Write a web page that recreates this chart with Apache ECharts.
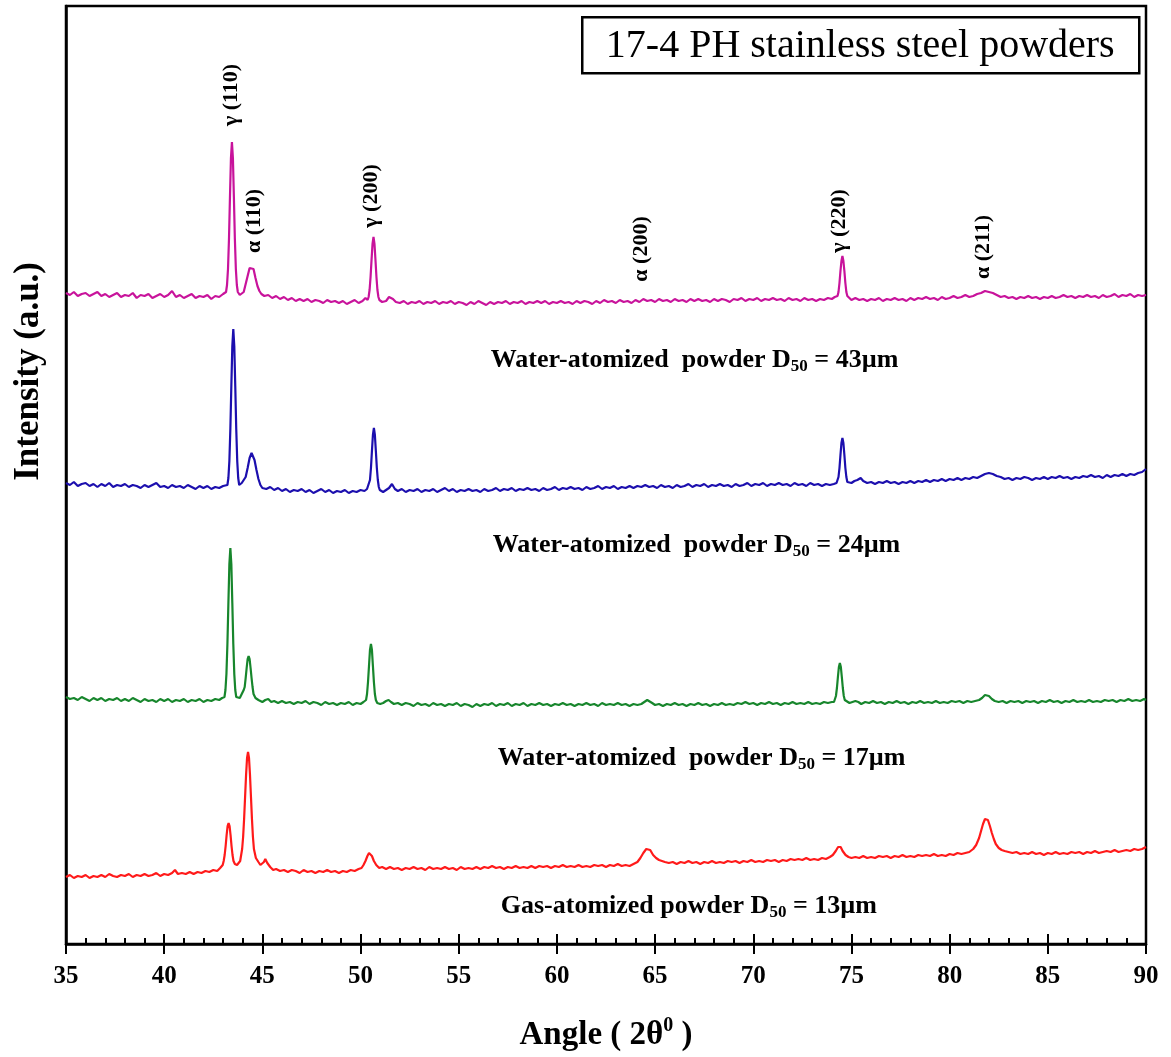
<!DOCTYPE html>
<html>
<head>
<meta charset="utf-8">
<title>XRD 17-4 PH powders</title>
<script src="https://cdn.jsdelivr.net/npm/echarts@6/dist/echarts.min.js"></script>
<style>
  html, body { margin: 0; padding: 0; background: #fff; }
  #chart { width: 1171px; height: 1057px; }
</style>
</head>
<body>
<div id="chart"></div>
<script>
// XRD patterns: [2θ (deg), intensity (a.u., stacked offsets included)]
const water43Pattern = [
  [35.0,651],[35.2,649],[35.4,652],[35.6,648],[35.8,650],[36.0,651],[36.2,648],[36.4,650],[36.6,652],[36.8,648],
  [37.0,650],[37.2,647],[37.4,649],[37.6,651],[37.8,647],[38.0,649],[38.2,648],[38.4,651],[38.6,646],[38.8,649],
  [39.0,648],[39.2,650],[39.4,646],[39.6,648],[39.8,650],[40.0,647],[40.2,649],[40.4,653],[40.6,647],[40.8,649],
  [41.0,646],[41.2,648],[41.4,650],[41.6,646],[41.8,648],[42.0,647],[42.2,649],[42.4,645],[42.6,648],[42.8,647],
  [43.0,650],[43.1,649],[43.15,652],[43.2,659],[43.25,675],[43.3,705],[43.35,747],[43.4,786],[43.45,802],[43.5,786],
  [43.55,747],[43.6,705],[43.65,675],[43.7,659],[43.75,652],[43.85,649],[43.95,651],[44.05,652],[44.15,660],[44.25,668],
  [44.35,676],[44.45,678],[44.55,675],[44.65,666],[44.75,658],[44.85,653],[44.95,650],[45.1,648],[45.3,649],[45.5,646],
  [45.7,648],[45.9,645],[46.1,647],[46.3,644],[46.5,646],[46.7,643],[46.9,645],[47.1,643],[47.3,645],[47.5,642],
  [47.7,644],[47.9,643],[48.1,641],[48.3,644],[48.5,642],[48.7,643],[48.9,641],[49.1,643],[49.3,640],[49.5,642],
  [49.7,644],[49.9,641],[50.1,643],[50.25,646],[50.36,644],[50.41,647],[50.46,654],[50.51,667],[50.56,684],[50.61,700],
  [50.66,707],[50.71,700],[50.76,684],[50.81,667],[50.86,654],[50.91,647],[50.96,644],[51.1,642],[51.3,643],[51.45,647],
  [51.55,649],[51.65,645],[51.8,642],[52.0,641],[52.2,643],[52.4,640],[52.6,642],[52.8,641],[53.0,643],[53.2,640],
  [53.4,642],[53.6,641],[53.8,643],[54.0,640],[54.2,642],[54.4,641],[54.6,643],[54.8,640],[55.0,642],[55.2,641],
  [55.4,639],[55.6,642],[55.8,640],[56.0,643],[56.2,641],[56.4,639],[56.6,642],[56.8,640],[57.0,642],[57.2,641],
  [57.4,643],[57.6,640],[57.8,642],[58.0,641],[58.2,643],[58.4,640],[58.6,642],[58.8,641],[59.0,643],[59.2,641],
  [59.4,643],[59.6,640],[59.8,642],[60.0,641],[60.2,643],[60.4,641],[60.6,642],[60.8,640],[61.0,643],[61.2,641],
  [61.4,643],[61.6,642],[61.8,640],[62.0,643],[62.2,641],[62.4,644],[62.6,642],[62.8,643],[63.0,641],[63.2,644],
  [63.4,642],[63.6,643],[63.8,641],[64.0,644],[64.2,642],[64.4,645],[64.6,643],[64.8,644],[65.0,642],[65.2,645],
  [65.4,643],[65.6,644],[65.8,642],[66.0,645],[66.2,643],[66.4,644],[66.6,642],[66.8,645],[67.0,643],[67.2,645],
  [67.4,643],[67.6,644],[67.8,642],[68.0,645],[68.2,643],[68.4,645],[68.6,644],[68.8,642],[69.0,645],[69.2,644],
  [69.4,646],[69.6,643],[69.8,645],[70.0,644],[70.2,646],[70.4,643],[70.6,645],[70.8,644],[71.0,646],[71.2,644],
  [71.4,645],[71.6,643],[71.8,646],[72.0,644],[72.2,645],[72.4,643],[72.6,646],[72.8,644],[73.0,645],[73.2,643],
  [73.4,645],[73.6,644],[73.8,646],[74.0,645],[74.15,647],[74.24,646],[74.29,648],[74.34,652],[74.39,661],[74.44,673],
  [74.49,683],[74.54,688],[74.59,683],[74.64,673],[74.69,661],[74.74,652],[74.79,648],[74.84,646],[75.0,644],[75.2,646],
  [75.4,644],[75.6,645],[75.8,643],[76.0,645],[76.2,644],[76.4,646],[76.6,643],[76.8,645],[77.0,644],[77.2,646],
  [77.4,644],[77.6,645],[77.8,643],[78.0,646],[78.2,644],[78.4,646],[78.6,645],[78.8,647],[79.0,645],[79.2,646],
  [79.4,644],[79.6,647],[79.8,645],[80.0,646],[80.2,648],[80.4,646],[80.6,647],[80.8,649],[81.0,647],[81.2,648],
  [81.4,650],[81.6,651],[81.8,653],[82.0,652],[82.2,651],[82.4,649],[82.6,647],[82.8,648],[83.0,646],[83.2,647],
  [83.4,645],[83.6,647],[83.8,646],[84.0,648],[84.2,646],[84.4,647],[84.6,645],[84.8,647],[85.0,646],[85.2,648],
  [85.4,646],[85.6,647],[85.8,649],[86.0,647],[86.2,648],[86.4,646],[86.6,648],[86.8,647],[87.0,649],[87.2,647],
  [87.4,648],[87.6,646],[87.8,649],[88.0,647],[88.2,648],[88.4,650],[88.6,647],[88.8,649],[89.0,648],[89.2,650],
  [89.4,647],[89.6,649],[89.8,648],[90.0,649]
];

const water24Pattern = [
  [35.0,461],[35.2,459],[35.4,462],[35.6,458],[35.8,460],[36.0,461],[36.2,458],[36.4,460],[36.6,457],[36.8,460],
  [37.0,458],[37.2,461],[37.4,457],[37.6,459],[37.8,458],[38.0,460],[38.2,457],[38.4,459],[38.6,458],[38.8,456],
  [39.0,459],[39.2,457],[39.4,459],[39.6,461],[39.8,457],[40.0,458],[40.2,456],[40.4,459],[40.6,457],[40.8,458],
  [41.0,456],[41.2,459],[41.4,457],[41.6,455],[41.8,458],[42.0,456],[42.2,458],[42.4,455],[42.6,457],[42.8,456],
  [43.0,458],[43.1,457],[43.22,459],[43.27,466],[43.32,483],[43.37,515],[43.42,558],[43.47,598],[43.52,615],[43.57,598],
  [43.62,558],[43.67,515],[43.72,483],[43.77,466],[43.82,459],[43.95,461],[44.05,462],[44.15,467],[44.25,476],[44.35,486],
  [44.45,491],[44.52,490],[44.6,484],[44.7,474],[44.8,465],[44.9,459],[45.0,456],[45.2,455],[45.4,457],[45.6,454],
  [45.8,456],[46.0,453],[46.2,455],[46.4,452],[46.6,454],[46.8,453],[47.0,455],[47.2,452],[47.4,454],[47.6,451],
  [47.8,453],[48.0,455],[48.2,452],[48.4,454],[48.6,451],[48.8,453],[49.0,452],[49.2,454],[49.4,451],[49.6,453],
  [49.8,452],[50.0,454],[50.2,453],[50.33,455],[50.38,454],[50.43,457],[50.48,464],[50.53,476],[50.58,493],[50.63,509],
  [50.68,516],[50.73,509],[50.78,493],[50.83,476],[50.88,464],[50.93,457],[50.98,454],[51.15,452],[51.3,454],[51.45,456],
  [51.6,460],[51.75,455],[51.9,453],[52.1,455],[52.3,452],[52.5,454],[52.7,453],[52.9,455],[53.1,452],[53.3,454],
  [53.5,453],[53.7,455],[53.9,452],[54.1,454],[54.3,456],[54.5,453],[54.7,455],[54.9,452],[55.1,454],[55.3,453],
  [55.5,455],[55.7,453],[55.9,454],[56.1,452],[56.3,455],[56.5,453],[56.7,454],[56.9,456],[57.1,453],[57.3,455],
  [57.5,454],[57.7,456],[57.9,453],[58.1,455],[58.3,454],[58.5,456],[58.7,454],[58.9,455],[59.1,453],[59.3,456],
  [59.5,454],[59.7,455],[59.9,457],[60.1,454],[60.3,456],[60.5,455],[60.7,457],[60.9,455],[61.1,456],[61.3,454],
  [61.5,457],[61.7,455],[61.9,456],[62.1,458],[62.3,455],[62.5,457],[62.7,456],[62.9,458],[63.1,455],[63.3,457],
  [63.5,456],[63.7,458],[63.9,456],[64.1,458],[64.3,457],[64.5,459],[64.7,457],[64.9,458],[65.1,456],[65.3,459],
  [65.5,457],[65.7,458],[65.9,456],[66.1,459],[66.3,457],[66.5,458],[66.7,460],[66.9,457],[67.1,459],[67.3,458],
  [67.5,460],[67.7,457],[67.9,459],[68.1,458],[68.3,460],[68.5,458],[68.7,459],[68.9,457],[69.1,460],[69.3,458],
  [69.5,459],[69.7,461],[69.9,458],[70.1,460],[70.3,459],[70.5,461],[70.7,458],[70.9,460],[71.1,459],[71.3,461],
  [71.5,459],[71.7,460],[71.9,458],[72.1,461],[72.3,459],[72.5,460],[72.7,458],[72.9,461],[73.1,459],[73.3,460],
  [73.5,458],[73.7,460],[73.9,459],[74.1,460],[74.24,461],[74.29,462],[74.34,467],[74.39,476],[74.44,489],[74.49,501],
  [74.54,506],[74.59,501],[74.64,489],[74.69,476],[74.74,467],[74.79,462],[74.86,460],[75.0,461],[75.15,463],[75.3,464],
  [75.47,466],[75.6,463],[75.8,461],[76.0,462],[76.2,460],[76.4,462],[76.6,461],[76.8,463],[77.0,461],[77.2,462],
  [77.4,460],[77.6,462],[77.8,461],[78.0,463],[78.2,461],[78.4,463],[78.6,462],[78.8,464],[79.0,462],[79.2,464],
  [79.4,463],[79.6,465],[79.8,463],[80.0,465],[80.2,464],[80.4,466],[80.6,464],[80.8,466],[81.0,465],[81.2,467],
  [81.4,466],[81.6,468],[81.8,470],[82.0,471],[82.2,470],[82.4,468],[82.6,467],[82.8,465],[83.0,466],[83.2,464],
  [83.4,466],[83.6,465],[83.8,467],[84.0,466],[84.2,464],[84.4,466],[84.6,465],[84.8,467],[85.0,465],[85.2,467],
  [85.4,466],[85.6,468],[85.8,466],[86.0,467],[86.2,465],[86.4,467],[86.6,466],[86.8,468],[87.0,467],[87.2,469],
  [87.4,467],[87.6,468],[87.8,466],[88.0,469],[88.2,467],[88.4,469],[88.6,468],[88.8,470],[89.0,468],[89.2,470],
  [89.4,469],[89.6,471],[89.8,472],[90.0,475]
];

const water17Pattern = [
  [35.0,247],[35.2,245],[35.4,246],[35.6,244],[35.8,247],[36.0,245],[36.2,243],[36.4,246],[36.6,244],[36.8,246],
  [37.0,243],[37.2,245],[37.4,244],[37.6,246],[37.8,243],[38.0,245],[38.2,243],[38.4,246],[38.6,244],[38.8,242],
  [39.0,245],[39.2,243],[39.4,244],[39.6,242],[39.8,245],[40.0,243],[40.2,245],[40.4,242],[40.6,244],[40.8,243],
  [41.0,245],[41.2,242],[41.4,244],[41.6,243],[41.8,245],[42.0,242],[42.2,244],[42.4,243],[42.6,245],[42.8,244],
  [42.95,246],[43.07,247],[43.12,254],[43.17,270],[43.22,300],[43.27,341],[43.32,380],[43.37,396],[43.42,380],[43.47,341],
  [43.52,300],[43.57,270],[43.62,254],[43.67,247],[43.75,245],[43.85,246],[43.95,248],[44.05,254],[44.1,257],[44.15,266],
  [44.2,276],[44.25,285],[44.3,288],[44.35,285],[44.4,276],[44.45,266],[44.5,257],[44.55,250],[44.65,246],[44.8,244],
  [45.0,242],[45.15,244],[45.3,245],[45.45,242],[45.6,243],[45.8,241],[46.0,243],[46.2,241],[46.4,242],[46.6,240],
  [46.8,242],[47.0,241],[47.2,243],[47.4,240],[47.6,242],[47.8,241],[48.0,239],[48.2,242],[48.4,240],[48.6,241],
  [48.8,239],[49.0,241],[49.2,240],[49.4,242],[49.6,239],[49.8,241],[50.0,240],[50.15,242],[50.23,242],[50.28,244],
  [50.33,250],[50.38,262],[50.43,278],[50.48,294],[50.53,300],[50.58,294],[50.63,278],[50.68,262],[50.73,250],[50.78,244],
  [50.85,241],[51.0,240],[51.15,241],[51.3,243],[51.43,244],[51.55,242],[51.7,240],[51.9,241],[52.1,239],[52.3,241],
  [52.5,240],[52.7,238],[52.9,241],[53.1,239],[53.3,240],[53.5,238],[53.7,241],[53.9,239],[54.1,240],[54.3,238],
  [54.5,240],[54.7,239],[54.9,241],[55.1,238],[55.3,240],[55.5,239],[55.7,237],[55.9,240],[56.1,238],[56.3,240],
  [56.5,239],[56.7,241],[56.9,238],[57.1,240],[57.3,239],[57.5,241],[57.7,238],[57.9,240],[58.1,239],[58.3,241],
  [58.5,238],[58.7,240],[58.9,239],[59.1,241],[59.3,239],[59.5,240],[59.7,238],[59.9,240],[60.1,239],[60.3,241],
  [60.5,239],[60.7,240],[60.9,238],[61.1,240],[61.3,239],[61.5,241],[61.7,239],[61.9,240],[62.1,238],[62.3,241],
  [62.5,239],[62.7,240],[62.9,239],[63.1,241],[63.3,239],[63.5,240],[63.7,238],[63.9,240],[64.1,239],[64.3,240],
  [64.45,242],[64.6,244],[64.7,244],[64.85,241],[65.0,239],[65.2,240],[65.4,238],[65.6,240],[65.8,239],[66.0,241],
  [66.2,239],[66.4,240],[66.6,238],[66.8,240],[67.0,239],[67.2,241],[67.4,239],[67.6,240],[67.8,238],[68.0,240],
  [68.2,239],[68.4,241],[68.6,239],[68.8,240],[69.0,239],[69.2,241],[69.4,240],[69.6,242],[69.8,240],[70.0,241],
  [70.2,239],[70.4,241],[70.6,240],[70.8,242],[71.0,240],[71.2,241],[71.4,239],[71.6,241],[71.8,240],[72.0,242],
  [72.2,240],[72.4,241],[72.6,240],[72.8,242],[73.0,240],[73.2,241],[73.4,240],[73.6,242],[73.8,241],[74.0,242],
  [74.11,242],[74.16,244],[74.21,248],[74.26,256],[74.31,267],[74.36,277],[74.41,281],[74.46,277],[74.51,267],[74.56,256],
  [74.61,248],[74.66,244],[74.75,242],[74.9,241],[75.05,242],[75.2,243],[75.35,242],[75.5,240],[75.7,242],[75.9,241],
  [76.1,243],[76.3,241],[76.5,242],[76.7,240],[76.9,242],[77.1,241],[77.3,243],[77.5,241],[77.7,242],[77.9,240],
  [78.1,242],[78.3,241],[78.5,243],[78.7,241],[78.9,242],[79.1,241],[79.3,243],[79.5,241],[79.7,242],[79.9,241],
  [80.1,243],[80.3,242],[80.5,243],[80.7,241],[80.9,243],[81.1,242],[81.3,243],[81.5,244],[81.65,246],[81.8,249],
  [81.9,250],[82.0,248],[82.15,245],[82.3,243],[82.5,242],[82.7,243],[82.9,241],[83.1,243],[83.3,242],[83.5,243],
  [83.7,241],[83.9,243],[84.1,242],[84.3,243],[84.5,241],[84.7,243],[84.9,242],[85.1,244],[85.3,242],[85.5,243],
  [85.7,241],[85.9,243],[86.1,242],[86.3,244],[86.5,242],[86.7,243],[86.9,242],[87.1,244],[87.3,242],[87.5,243],
  [87.7,242],[87.9,244],[88.1,243],[88.3,244],[88.5,242],[88.7,244],[88.9,243],[89.1,245],[89.3,243],[89.5,244],
  [89.7,243],[89.9,245],[90.0,244]
];

const gas13Pattern = [
  [35.0,67],[35.2,69],[35.4,66],[35.6,68],[35.8,67],[36.0,69],[36.2,66],[36.4,68],[36.6,67],[36.8,69],
  [37.0,67],[37.2,70],[37.4,68],[37.6,67],[37.8,69],[38.0,68],[38.2,70],[38.4,67],[38.6,69],[38.8,68],
  [39.0,70],[39.2,68],[39.4,69],[39.6,71],[39.8,68],[40.0,70],[40.2,69],[40.4,71],[40.55,74],[40.7,70],
  [40.9,71],[41.1,70],[41.3,72],[41.5,70],[41.7,72],[41.9,71],[42.1,73],[42.3,72],[42.5,74],[42.7,73],
  [42.85,76],[42.98,79],[43.03,83],[43.08,89],[43.13,98],[43.18,109],[43.23,118],[43.28,121],[43.33,118],[43.38,109],
  [43.43,98],[43.48,89],[43.53,83],[43.6,80],[43.71,79],[43.8,81],[43.87,83],[43.97,95],[44.02,107],[44.07,125],
  [44.12,147],[44.17,169],[44.22,186],[44.27,192],[44.32,186],[44.37,169],[44.42,147],[44.47,125],[44.52,107],[44.57,95],
  [44.67,86],[44.8,82],[44.9,79],[45.0,77],[45.08,82],[45.15,85],[45.25,81],[45.4,77],[45.55,74],[45.7,75],
  [45.9,73],[46.1,74],[46.3,72],[46.5,74],[46.7,73],[46.9,71],[47.1,74],[47.3,72],[47.5,73],[47.7,71],
  [47.9,73],[48.1,72],[48.3,74],[48.5,72],[48.7,73],[48.9,71],[49.1,73],[49.3,72],[49.5,74],[49.7,73],
  [49.9,75],[50.05,76],[50.15,79],[50.25,83],[50.35,88],[50.43,91],[50.5,91],[50.58,88],[50.68,83],[50.8,79],
  [50.95,76],[51.1,77],[51.3,75],[51.5,77],[51.7,75],[51.9,76],[52.1,74],[52.3,76],[52.5,75],[52.7,77],
  [52.9,75],[53.1,76],[53.3,74],[53.5,77],[53.7,75],[53.9,76],[54.1,75],[54.3,77],[54.5,75],[54.7,76],
  [54.9,74],[55.1,77],[55.3,75],[55.5,76],[55.7,75],[55.9,77],[56.1,75],[56.3,77],[56.5,76],[56.7,78],
  [56.9,76],[57.1,77],[57.3,75],[57.5,77],[57.7,76],[57.9,78],[58.1,76],[58.3,77],[58.5,76],[58.7,78],
  [58.9,76],[59.1,78],[59.3,77],[59.5,78],[59.7,76],[59.9,78],[60.1,77],[60.3,79],[60.5,77],[60.7,78],
  [60.9,77],[61.1,79],[61.3,77],[61.5,78],[61.7,77],[61.9,79],[62.1,78],[62.3,79],[62.5,77],[62.7,79],
  [62.9,78],[63.1,80],[63.3,78],[63.5,79],[63.7,78],[63.9,80],[64.1,82],[64.25,86],[64.4,91],[64.55,95],
  [64.64,96],[64.75,94],[64.9,89],[65.05,86],[65.2,84],[65.35,83],[65.5,82],[65.7,81],[65.9,82],[66.1,80],
  [66.3,82],[66.5,81],[66.7,83],[66.9,81],[67.1,82],[67.3,80],[67.5,82],[67.7,81],[67.9,83],[68.1,81],
  [68.3,82],[68.5,81],[68.7,83],[68.9,82],[69.1,83],[69.3,81],[69.5,83],[69.7,82],[69.9,84],[70.1,82],
  [70.3,83],[70.5,82],[70.7,84],[70.9,83],[71.1,84],[71.3,82],[71.5,84],[71.7,83],[71.9,85],[72.1,84],
  [72.3,85],[72.5,84],[72.7,86],[72.9,84],[73.1,85],[73.3,84],[73.5,86],[73.7,85],[73.9,87],[74.05,89],
  [74.2,93],[74.32,97],[74.38,98],[74.45,97],[74.55,93],[74.7,89],[74.85,87],[75.0,86],[75.2,87],[75.4,86],
  [75.6,88],[75.8,86],[76.0,87],[76.2,86],[76.4,88],[76.6,87],[76.8,88],[77.0,86],[77.2,88],[77.4,87],
  [77.6,89],[77.8,87],[78.0,88],[78.2,87],[78.4,89],[78.6,88],[78.8,89],[79.0,88],[79.2,90],[79.4,88],
  [79.6,89],[79.8,88],[80.0,90],[80.2,89],[80.4,91],[80.6,90],[80.8,91],[81.0,92],[81.2,95],[81.35,99],
  [81.5,106],[81.6,113],[81.7,120],[81.8,125],[81.87,126],[81.95,124],[82.05,118],[82.15,111],[82.25,105],[82.35,100],
  [82.5,96],[82.65,94],[82.8,93],[83.0,92],[83.2,91],[83.4,92],[83.6,90],[83.8,91],[84.0,90],[84.2,92],
  [84.4,90],[84.6,91],[84.8,89],[85.0,91],[85.2,90],[85.4,92],[85.6,90],[85.8,91],[86.0,90],[86.2,92],
  [86.4,91],[86.6,92],[86.8,90],[87.0,92],[87.2,91],[87.4,93],[87.6,91],[87.8,92],[88.0,93],[88.2,92],
  [88.4,94],[88.6,92],[88.8,93],[89.0,94],[89.2,93],[89.4,95],[89.6,94],[89.8,95],[90.0,97]
];

const sampleNames = [
  'Water-atomized D50 = 43 μm', 'Water-atomized D50 = 24 μm',
  'Water-atomized D50 = 17 μm', 'Gas-atomized D50 = 13 μm'
];
const sampleCaptions = [
  '{t|Water-atomized  powder D}{sub|50}{t| = 43µm}',
  '{t|Water-atomized  powder D}{sub|50}{t| = 24µm}',
  '{t|Water-atomized  powder D}{sub|50}{t| = 17µm}',
  '{t|Gas-atomized powder D}{sub|50}{t| = 13µm}'
];
// where each caption starts (2θ, intensity)
const captionAnchors = [[56.63, 584], [56.73, 399], [56.99, 186], [57.14, 38]];

const peakNames = ['γ (110)', 'α (110)', 'γ (200)', 'α (200)', 'γ (220)', 'α (211)'];
const peakAnchors = [[43.44, 849], [44.58, 723], [50.56, 748], [64.32, 695], [74.39, 723], [81.73, 697]];

const traceColors = ['#C8139B', '#1C0FAE', '#17862C', '#FF1A1A'];
const patterns = [water43Pattern, water24Pattern, water17Pattern, gas13Pattern];

const serif = '"Liberation Serif", "Times New Roman", serif';

document.addEventListener('DOMContentLoaded', () => {
  const chart = echarts.init(document.getElementById('chart'));

  const captionRich = {
    t: { fontFamily: serif, fontWeight: 'bold', fontSize: 26, color: '#000', lineHeight: 30 },
    sub: { fontFamily: serif, fontWeight: 'bold', fontSize: 17, color: '#000', lineHeight: 17, verticalAlign: 'bottom' }
  };

  const series = patterns.map((data, i) => {
    const marks = [{
      coord: captionAnchors[i],
      label: {
        show: true, position: 'inside', align: 'left',
        formatter: () => sampleCaptions[i], rich: captionRich
      }
    }];
    // the peak indexing sits above the top pattern
    if (i === 0) {
      peakNames.forEach((name, k) => {
        marks.push({
          coord: peakAnchors[k],
          label: {
            show: true, position: 'inside', rotate: 90,
            formatter: () => name,
            fontFamily: serif, fontWeight: 'bold', fontSize: 22, color: '#000'
          }
        });
      });
    }
    return {
      name: sampleNames[i],
      type: 'line',
      data: data,
      showSymbol: false,
      symbol: 'none',
      lineStyle: { color: traceColors[i], width: 2.2 },
      itemStyle: { color: traceColors[i] },
      z: 3,
      markPoint: {
        symbol: 'circle', symbolSize: 0, silent: true, animation: false,
        data: marks
      }
    };
  });

  const option = {
    backgroundColor: '#fff',
    animation: false,
    grid: {
      left: 66, right: 25, top: 6, bottom: 113,
      outerBoundsMode: 'none',
      show: true, borderColor: '#000', borderWidth: 2.5, backgroundColor: 'transparent'
    },
    xAxis: [
      {
        type: 'value', min: 35, max: 90, interval: 5,
        name: '{n|Angle ( 2θ}{sup|0}{n| )}',
        nameLocation: 'middle', nameGap: 72,
        nameTextStyle: {
          rich: {
            n: { fontFamily: serif, fontWeight: 'bold', fontSize: 33, color: '#000', lineHeight: 38 },
            sup: { fontFamily: serif, fontWeight: 'bold', fontSize: 20, color: '#000', lineHeight: 20, verticalAlign: 'top' }
          }
        },
        axisLine: { show: true, lineStyle: { color: '#000', width: 2.5 } },
        axisTick: { show: true, inside: true, length: 10, lineStyle: { color: '#000', width: 2 } },
        minorTick: { show: true, splitNumber: 5, length: 6, lineStyle: { color: '#000', width: 2 } },
        axisLabel: { color: '#000', fontFamily: serif, fontWeight: 'bold', fontSize: 25, margin: 20 },
        splitLine: { show: false }
      },
      {
        // outer half of the major ticks
        type: 'value', min: 35, max: 90, interval: 5, position: 'bottom', offset: 0,
        axisLine: { show: false },
        axisTick: { show: true, inside: false, length: 10, lineStyle: { color: '#000', width: 2 } },
        axisLabel: { show: false },
        splitLine: { show: false }
      }
    ],
    yAxis: {
      type: 'value', min: 0, max: 938,
      axisLine: { show: true, lineStyle: { color: '#000', width: 2.5 } },
      axisTick: { show: false },
      axisLabel: { show: false },
      splitLine: { show: false }
    },
    graphic: [
      {
        type: 'text', left: 11, top: 262, rotation: Math.PI / 2,
        style: {
          text: 'Intensity (a.u.)', fill: '#000',
          font: 'bold 35px ' + serif
        }
      },
      {
        type: 'group', left: 581, top: 16, z: 10,
        children: [
          {
            type: 'rect', shape: { x: 0, y: 0, width: 557, height: 56 },
            style: { fill: '#fff', stroke: '#000', lineWidth: 2.5 }
          },
          {
            type: 'text', x: 278, y: 29,
            style: {
              text: '17-4 PH stainless steel powders', fill: '#000',
              font: '40px ' + serif, textAlign: 'center', textVerticalAlign: 'middle'
            }
          }
        ]
      }
    ],
    series: series
  };

  chart.setOption(option);
  window.addEventListener('resize', () => chart.resize());
});
</script>
</body>
</html>
